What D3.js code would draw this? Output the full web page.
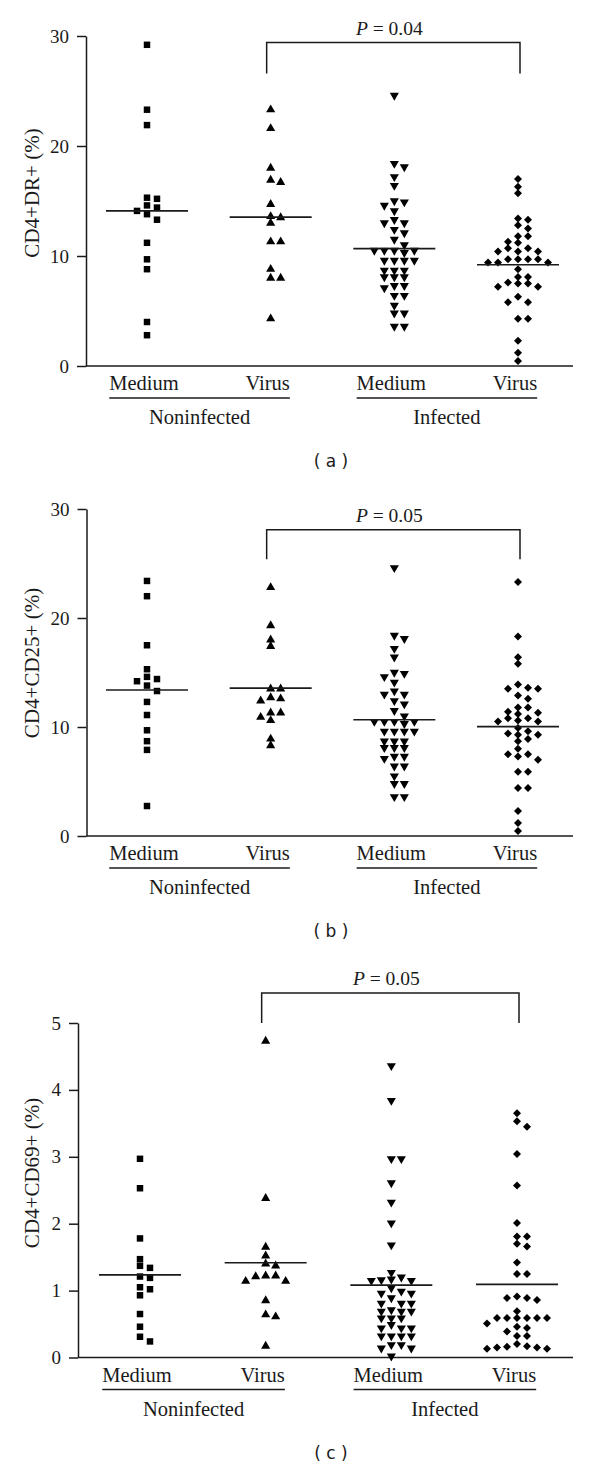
<!DOCTYPE html>
<html><head><meta charset="utf-8">
<script src="https://cdn.jsdelivr.net/npm/d3@7"></script>
<style>body{margin:0;background:#fff}svg{display:block}</style>
</head><body><svg id="c" width="600" height="1469"></svg>
<script>
// ---------- data ----------
const categories = ["Medium", "Virus", "Medium", "Virus"];
const groups = ["Noninfected", "Infected"];
const panelLabels = ["( a )", "( b )", "( c )"];
const yTitles = ["CD4+DR+ (%)", "CD4+CD25+ (%)", "CD4+CD69+ (%)"];
const pValues = ["0.04", "0.05", "0.05"];
const yTicksAB = [0, 10, 20, 30];
const yTicksC = [0, 1, 2, 3, 4, 5];

const drNonMedium = [29.2, 23.3, 21.9, 15.3, 15.2, 14.6, 14.4, 14.1, 13.8, 13.3, 11.2, 9.7, 8.8, 4.0, 2.8];
const drNonVirus = [23.3, 21.6, 18.0, 16.9, 16.7, 14.7, 13.6, 13.5, 13.0, 11.3, 11.3, 8.8, 8.0, 8.0, 4.3];
const drInfMedium = [24.6, 18.4, 18.1, 17.2, 16.4, 15.0, 14.9, 14.6, 14.1, 13.3, 13.0, 13.0, 12.4, 12.1, 11.5, 11.0, 10.5, 10.5, 10.5, 10.5, 10.3, 9.6, 9.6, 9.6, 9.6, 8.7, 8.7, 8.7, 8.1, 8.1, 8.1, 7.3, 7.3, 7.1, 6.4, 6.4, 5.5, 4.8, 4.8, 3.6, 3.6];
const drInfVirus = [17.0, 16.3, 15.7, 13.4, 13.3, 12.8, 12.5, 11.8, 11.8, 11.3, 11.2, 10.7, 10.7, 10.4, 10.4, 10.4, 9.7, 9.7, 9.7, 9.7, 9.4, 9.4, 9.4, 8.8, 8.1, 8.1, 7.6, 7.5, 7.5, 7.2, 7.2, 6.3, 5.8, 5.8, 4.3, 4.3, 2.3, 1.2, 0.45];

const cd25NonMedium = [23.4, 22.0, 17.5, 15.3, 14.6, 14.4, 14.2, 13.8, 13.3, 12.3, 11.1, 9.7, 8.7, 7.9, 2.75];
const cd25NonVirus = [22.8, 19.3, 18.0, 17.4, 13.5, 13.5, 12.7, 12.6, 12.4, 11.3, 11.3, 10.9, 10.6, 8.9, 8.3];
const cd25InfMedium = [24.6, 18.4, 18.1, 17.2, 16.4, 15.0, 14.9, 14.6, 14.1, 13.3, 13.0, 13.0, 12.4, 12.1, 11.5, 11.0, 10.5, 10.5, 10.5, 10.5, 10.3, 9.6, 9.6, 9.6, 9.6, 8.7, 8.7, 8.7, 8.1, 8.1, 8.1, 7.3, 7.3, 7.1, 6.4, 6.4, 5.5, 4.8, 4.8, 3.6, 3.6];
const cd25InfVirus = [23.3, 18.3, 16.4, 15.8, 13.9, 13.6, 13.5, 13.5, 12.9, 12.6, 11.8, 11.8, 11.4, 11.3, 11.2, 10.8, 10.8, 10.6, 10.5, 10.5, 9.9, 9.6, 9.4, 9.3, 9.3, 8.9, 8.7, 8.0, 7.5, 7.5, 7.3, 7.0, 5.9, 5.9, 4.4, 4.4, 2.3, 1.2, 0.45];

const cd69NonMedium = [2.97, 2.53, 1.78, 1.47, 1.37, 1.34, 1.21, 1.19, 1.05, 1.02, 0.93, 0.65, 0.46, 0.31, 0.24];
const cd69NonVirus = [4.73, 2.38, 1.65, 1.52, 1.40, 1.37, 1.22, 1.22, 1.21, 1.14, 1.14, 0.85, 0.64, 0.61, 0.17];
const cd69InfMedium = [4.36, 3.84, 2.97, 2.97, 2.61, 2.32, 2.01, 1.68, 1.27, 1.20, 1.17, 1.16, 1.15, 1.15, 1.04, 0.99, 0.96, 0.96, 0.89, 0.81, 0.81, 0.81, 0.71, 0.69, 0.69, 0.69, 0.59, 0.59, 0.59, 0.49, 0.44, 0.44, 0.44, 0.32, 0.32, 0.32, 0.32, 0.19, 0.19, 0.14, 0.14, 0.02];
const cd69InfVirus = [3.65, 3.53, 3.45, 3.04, 2.57, 2.01, 1.81, 1.81, 1.70, 1.66, 1.42, 1.25, 1.25, 0.91, 0.89, 0.89, 0.86, 0.69, 0.59, 0.59, 0.59, 0.59, 0.59, 0.59, 0.51, 0.46, 0.44, 0.39, 0.32, 0.32, 0.20, 0.17, 0.16, 0.15, 0.15, 0.13, 0.13];

// ---------- layout ----------
const serif = "'Liberation Serif','Times New Roman',serif";
const ink = "#1a1a1a";
const panels = [
  {series: [drNonMedium, drNonVirus, drInfMedium, drInfVirus], ticks: yTicksAB, domain: [0, 30],
   yRange: [366, 36], xRange: [147, 518], axisX: 86, title: yTitles[0], titleY: 193,
   p: pValues[0], bracket: [29.4, 26.6], label: panelLabels[0]},
  {series: [cd25NonMedium, cd25NonVirus, cd25InfMedium, cd25InfVirus], ticks: yTicksAB, domain: [0, 30],
   yRange: [836, 509], xRange: [147, 518], axisX: 86.5, title: yTitles[1], titleY: 663,
   p: pValues[1], bracket: [28.1, 25.4], label: panelLabels[1]},
  {series: [cd69NonMedium, cd69NonVirus, cd69InfMedium, cd69InfVirus], ticks: yTicksC, domain: [0, 5],
   yRange: [1357.5, 1023], xRange: [140, 517], axisX: 78, title: yTitles[2], titleY: 1173,
   p: pValues[2], bracket: [5.45, 5.0], label: panelLabels[2]}
];
const axisEnd = 573;

const svg = d3.select("#c");
svg.append("rect").attr("width", 600).attr("height", 1469).attr("fill", "#fff");

const shapes = [
  d3.symbol().type(d3.symbolSquare).size(42),
  d3.symbol().type(d3.symbolTriangle).size(36),
  d3.symbol().type(d3.symbolTriangle).size(36),
  d3.symbol().type(d3.symbolSquare).size(32)
];
const rot = [0, 0, 180, 45];

function swarm(values, y, cx, slotW, thr) {
  const placed = [];
  const order = values.map((v, i) => ({v, i})).sort((a, b) => b.v - a.v);
  const out = [];
  order.forEach(({v}) => {
    const py = y(v);
    let k = 0;
    for (let t = 0; t < 30; t++) {
      const s = t === 0 ? 0 : (t % 2 ? (t + 1) / 2 : -t / 2);
      if (!placed.some(p => p.s === s && Math.abs(p.y - py) < thr)) { k = s; break; }
    }
    placed.push({s: k, y: py});
    out.push({v, x: cx + k * slotW, y: py});
  });
  return out;
}

panels.forEach((P, pi) => {
  const g = svg.append("g");
  const y = d3.scaleLinear().domain(P.domain).range(P.yRange);
  const x = d3.scalePoint().domain(d3.range(4)).range(P.xRange);
  const y0 = y(0);

  // y axis
  const ax = g.append("g").attr("transform", `translate(${P.axisX},0)`)
    .call(d3.axisLeft(y).tickValues(P.ticks).tickFormat(d3.format("d")).tickSize(9).tickPadding(8).tickSizeOuter(0));
  ax.select(".domain").attr("stroke", ink).attr("stroke-width", 1.5);
  ax.selectAll(".tick line").attr("stroke", ink).attr("stroke-width", 1.5);
  ax.selectAll(".tick text").attr("font-family", serif).attr("font-size", 19).attr("fill", ink);

  // x axis line
  g.append("line").attr("x1", P.axisX).attr("x2", axisEnd).attr("y1", y0).attr("y2", y0)
    .attr("stroke", ink).attr("stroke-width", 1.5);

  // y title
  g.append("text").attr("transform", `translate(32,${P.titleY}) rotate(-90)`)
    .attr("text-anchor", "middle").attr("dy", "0.35em")
    .attr("font-family", serif).attr("font-size", 21).attr("fill", ink).text(P.title);

  // points
  P.series.forEach((vals, si) => {
    const pts = swarm(vals, y, x(si), 10, 6);
    g.selectAll(null).data(pts).join("path")
      .attr("d", shapes[si])
      .attr("transform", d => `translate(${d.x},${d.y}) rotate(${rot[si]})`)
      .attr("fill", "#000");
    const m = d3.mean(vals);
    g.append("line").attr("x1", x(si) - 41).attr("x2", x(si) + 41)
      .attr("y1", y(m)).attr("y2", y(m)).attr("stroke", ink).attr("stroke-width", 1.6);
  });

  // category labels
  const labs = [];
  categories.forEach((c, i) => {
    const t = g.append("text").attr("x", x(i) - 3).attr("y", y0 + 24)
      .attr("text-anchor", "middle").attr("font-family", serif).attr("font-size", 20.5)
      .attr("fill", ink).text(c);
    labs.push(t.node().getBBox());
  });
  groups.forEach((gr, gi) => {
    const a = labs[gi * 2], b = labs[gi * 2 + 1];
    const x1 = a.x, x2 = b.x + b.width;
    g.append("line").attr("x1", x1).attr("x2", x2).attr("y1", y0 + 32).attr("y2", y0 + 32)
      .attr("stroke", ink).attr("stroke-width", 1.5);
    g.append("text").attr("x", (x1 + x2) / 2).attr("y", y0 + 58).attr("text-anchor", "middle")
      .attr("font-family", serif).attr("font-size", 20.5).attr("fill", ink).text(gr);
  });

  // bracket
  const bx1 = x(1) - 4, bx2 = x(3) + 2;
  const bt = y(P.bracket[0]), bb = y(P.bracket[1]);
  g.append("path").attr("d", `M${bx1},${bb}V${bt}H${bx2}V${bb}`)
    .attr("fill", "none").attr("stroke", ink).attr("stroke-width", 1.5);
  const pt = g.append("text").attr("x", (bx1 + bx2) / 2 - 4).attr("y", bt - 8)
    .attr("text-anchor", "middle").attr("font-family", serif).attr("font-size", 19.5).attr("fill", ink);
  pt.append("tspan").attr("font-style", "italic").text("P");
  pt.append("tspan").text(" = " + P.p);

  // panel label
  g.append("text").attr("x", 331).attr("y", y0 + 101).attr("text-anchor", "middle")
    .attr("font-family", "'DejaVu Sans',sans-serif").attr("font-size", 17).attr("fill", ink)
    .text(P.label);
});
</script>
</body></html>
